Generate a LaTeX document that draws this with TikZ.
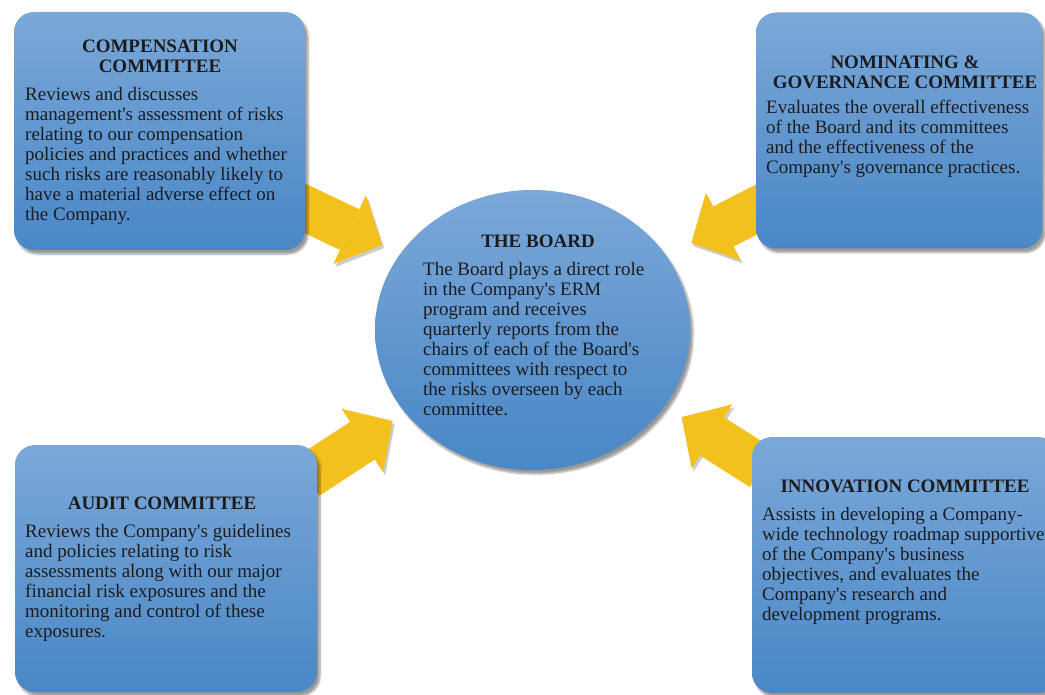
\documentclass[tikz,border=0pt]{standalone}
\usepackage{fontspec}
\setmainfont{Liberation Serif}
\usetikzlibrary{arrows.meta,shapes.geometric,backgrounds,shadows.blur}
\definecolor{boxtop}{RGB}{123,168,216}
\definecolor{boxbottom}{RGB}{73,135,198}
\definecolor{feedyellow}{RGB}{243,193,30}
\definecolor{inktext}{RGB}{28,28,30}
\newcommand{\ap}{\textquotesingle}
\tikzstyle{every node}=[inner sep=0pt, text=inktext]

\begin{document}
\begin{tikzpicture}[x=1pt, y=-1pt,
    committee/.style={
        rectangle,
        rounded corners=20pt,
        top color=boxtop,
        bottom color=boxbottom,
        blur shadow={shadow xshift=3pt, shadow yshift=-4pt, shadow blur steps=8}},
    board/.style={
        ellipse,
        minimum width=315pt,
        minimum height=280pt,
        top color=boxtop,
        bottom color=boxbottom,
        blur shadow={shadow xshift=3pt, shadow yshift=-4pt, shadow blur steps=8}},
    heading/.style={
        anchor=north,
        align=center,
        font=\fontsize{19}{20}\selectfont\bfseries},
    summary/.style={
        anchor=north west,
        align=left,
        font=\fontsize{19}{20}\selectfont},
    feed/.style={
        draw=feedyellow,
        line width=45pt,
        -{Triangle[width=76pt,length=36pt,line width=0pt]},
        preaction={draw=black, opacity=.2, transform canvas={xshift=2pt,yshift=-3pt}}},
  ]
  \useasboundingbox (0,0) rectangle (1045,695);
  \clip (0,0) rectangle (1045,695);
  % Board
  \node[board] (board) at (532.5,330) {};
  % Committees
  \node[committee, minimum width=291pt, minimum height=238pt] (comp) at (159.5,131) {};
  \node[committee, minimum width=286pt, minimum height=236pt] (nom) at (899,130.5) {};
  \node[committee, minimum width=302pt, minimum height=247pt] (audit) at (166,568.5) {};
  \node[committee, minimum width=306pt, minimum height=256pt] (innov) at (905,565) {};
  % Reporting arrows
  \begin{pgfonlayer}{background}
    \draw[feed, shorten <=-12pt, shorten >=20pt] (comp.-28) -- (board.150);
    \draw[feed, shorten <=-12pt, shorten >=28pt] (nom.209) -- (board.29);
    \draw[feed, shorten <=-12pt, shorten >=15pt] (audit.33) -- (board.213);
    \draw[feed, shorten <=-12pt, shorten >=20pt] (innov.146) -- (board.330);
  \end{pgfonlayer}
  % Texts
  \node[heading] (boardtitle) at (538,235) {THE BOARD};
  \node[summary] (boardtext) at (423,262) {The Board plays a direct role\\in the Company\ap s ERM\\program and receives\\quarterly reports from the\\chairs of each of the Board\ap s\\committees with respect to\\the risks overseen by each\\committee.};
  \node[heading] (comptitle) at (160,40) {COMPENSATION\\COMMITTEE};
  \node[summary] (comptext) at (25,87) {Reviews and discusses\\management\ap s assessment of risks\\relating to our compensation\\policies and practices and whether\\such risks are reasonably likely to\\have a material adverse effect on\\the Company.};
  \node[heading] (nomtitle) at (905,56) {NOMINATING \&\\GOVERNANCE COMMITTEE};
  \node[summary] (nomtext) at (766,100) {Evaluates the overall effectiveness\\of the Board and its committees\\and the effectiveness of the\\Company\ap s governance practices.};
  \node[heading] (audittitle) at (162,497) {AUDIT COMMITTEE};
  \node[summary] (audittext) at (25,524) {Reviews the Company\ap s guidelines\\and policies relating to risk\\assessments along with our major\\financial risk exposures and the\\monitoring and control of these\\exposures.};
  \node[heading] (innovtitle) at (905,480) {INNOVATION COMMITTEE};
  \node[summary] (innovtext) at (762,507) {Assists in developing a Company-\\wide technology roadmap supportive\\of the Company\ap s business\\objectives, and evaluates the\\Company\ap s research and\\development programs.};
\end{tikzpicture}
\end{document}
